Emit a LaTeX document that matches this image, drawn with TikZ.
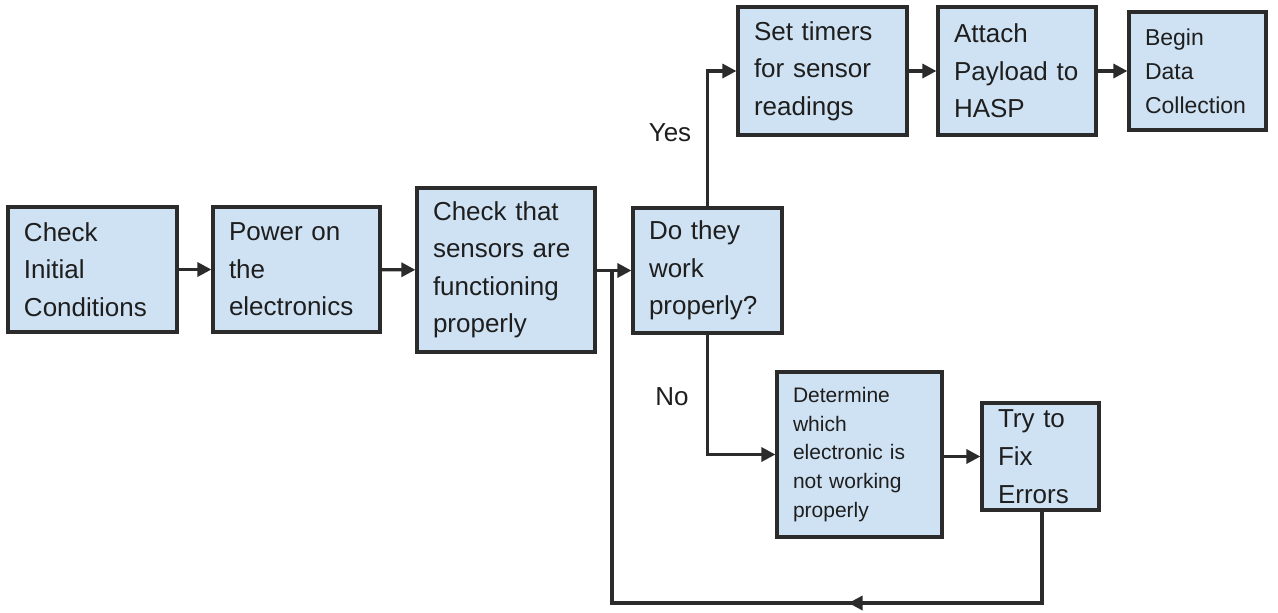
\documentclass[tikz,border=0pt]{standalone}
\usepackage{fontspec}
\setmainfont{Liberation Sans}
\usetikzlibrary{arrows.meta,calc}

\definecolor{boxfill}{HTML}{CFE2F3}
\definecolor{boxline}{HTML}{2B2B2B}
\definecolor{txt}{HTML}{1E1E1E}

\tikzset{
	box/.style = {draw = boxline, fill = boxfill, line width = 1.6pt, align = left,
		inner xsep = 8pt, inner ysep = 0pt, text = txt,
		font = \fontsize{13}{18.75}\selectfont},
	line/.style = {draw = boxline, line width = 1.6pt},
	arr/.style = {line, -{Triangle[length = 7pt, width = 7pt]}},
	lbl/.style = {text = txt, font = \fontsize{13}{16}\selectfont}
}

\begin{document}
\begin{tikzpicture}[x = 0.5pt, y = -0.5pt]
		\useasboundingbox (0, 0) rectangle (1278, 612);
		% main row
		\node[box, text width = 68.5pt, minimum height = 62.5pt] (init) at (92.5, 269.5) {Check\\Initial\\Conditions};
		\node[box, text width = 67.5pt, minimum height = 62.5pt] (power) at (296.5, 269.5) {Power on\\the\\electronics};
		\node[box, text width = 73pt, minimum height = 82pt] (sens) at (506, 270) {Check that\\sensors are\\functioning\\properly};
		\node[box, text width = 58.5pt, minimum height = 62.5pt] (ask) at (707.5, 270.5) {Do they\\work\\properly?};
		% yes branch
		\node[box, text width = 68.5pt, minimum height = 64pt] (timers) at (822.5, 71) {Set timers\\for sensor\\readings};
		\node[box, text width = 63pt, minimum height = 64pt] (payload) at (1017, 71) {Attach\\Payload to\\HASP};
		\node[box, text width = 52.5pt, minimum height = 59pt, font = \fontsize{11.5}{17}\selectfont] (begin) at (1197.5, 71) {Begin\\Data\\Collection};
		% no branch
		\node[box, text width = 66.5pt, minimum height = 82.5pt, font = \fontsize{10.5}{14.3}\selectfont] (which) at (859.5, 454.5) {Determine\\which\\electronic is\\not working\\properly};
		\node[box, text width = 42.5pt, minimum height = 53.5pt, font = \fontsize{13}{19}\selectfont] (fix) at (1040.5, 456.5) {Try to\\Fix\\Errors};
		\node[lbl] (yes) at (670, 133) {Yes};
		\node[lbl] (no) at (672, 397) {No};

		\draw[arr] (init) -- (power);
		\draw[arr] (power) -- (sens);
		\draw[arr] (sens.east |- ask.west) -- (ask.west);
		\draw[arr] (ask.north) |- (timers.west);
		\draw[arr] (timers) -- (payload);
		\draw[arr] (payload) -- (begin);
		\draw[arr] (ask.south) |- (which.west);
		\draw[arr] (which.east |- fix.west) -- (fix.west);

		% loop back
		\coordinate (loopR) at (1042, 603);
		\coordinate (loopL) at (612, 603);
		\coordinate (join) at (612, 270);
		\draw[line] (fix.south -| loopR) -- (loopR) -- (loopL) -- (join);
		\draw[arr] (loopR) -- ($(loopR)!0.45!(loopL)$);
	\end{tikzpicture}
\end{document}
